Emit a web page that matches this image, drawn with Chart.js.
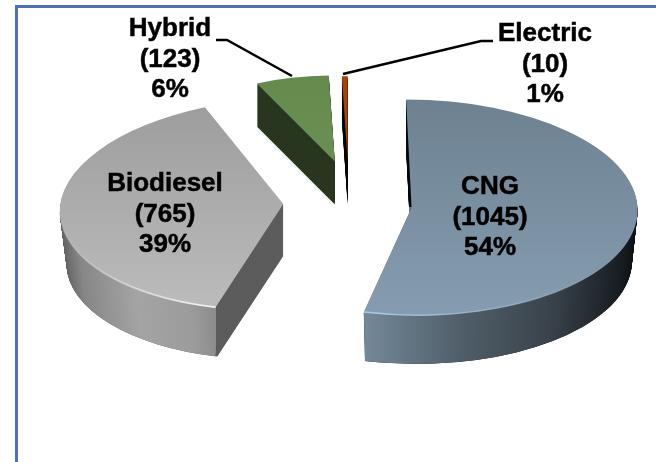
<!DOCTYPE html>
<html>
<head>
<meta charset="utf-8">
<title>Vehicles by fuel type</title>
<script src="https://cdn.jsdelivr.net/npm/chart.js@4"></script>
<style>
  html, body { margin: 0; background: #fff; }
  #wrap { position: relative; width: 656px; height: 462px; overflow: hidden; }
  #frame { position: absolute; left: 15px; top: 5px; right: 0; bottom: 0;
           border-left: 3px solid #5070b5; border-top: 3px solid #5070b5; }
  canvas { position: absolute; left: 0; top: 0; }
</style>
</head>
<body>
<div id="wrap">
  <div id="frame"></div>
  <canvas id="myChart" width="656" height="462"></canvas>
</div>
<script>
const categories = ['CNG', 'Biodiesel', 'Hybrid', 'Electric'];
const counts = [1045, 765, 123, 10];
const percents = [54, 39, 6, 1];

// look of each slice, same order as categories
const sliceColors = ['#7b90a2', '#adadad', '#69904f', '#a8430c'];
const topFaces = [['#6d8190', '#869db1'], ['#9c9c9c', '#bcbcbc'], ['#648a4e', '#6f955a'], ['#a8430c', '#a8430c']];
const edgeColors = ['#080b0e', '#5c5c5c', '#28351f', '#0a0a0a'];
const explode = [62, 67, 88, 84];
const drift = [[0, 3], [0, 0], [5, 0], [-1, 0]];
const radii = [226, 223, 187, 177];
const squashes = [0.478, 0.478, 0.46, 0.478];
const shears = [0.05, -0.15, 0, 0];
const depths = [51, 52, 43, 44];
const tapers = [0.025, 0.03, 0, 0];

// outer wall gradients, stops run from -radius to +radius of the slice
const walls = [
  { side: 'right', bevel: '#a9cbe6', stops: [[0.38, '#74899a'], [0.6, '#505e69'], [0.8, '#3a434b'], [0.95, '#1a2025'], [1, '#0d1114']] },
  { side: 'left', bevel: '#f6f6f6', stops: [[0, '#5e5e5e'], [0.06, '#868686'], [0.2, '#a4a4a4'], [0.33, '#9b9b9b'], [0.38, '#8c8c8c']] },
  null,
  null
];

// text placement: centre x and first baseline
const labelSpots = [[490, 194], [165, 191], [170, 36], [545, 41]];
const lineGap = 30.7;
const leaders = [
  [[216, 40], [227, 40], [292, 76]],
  [[343, 74], [481, 41], [493, 41]]
];

function sliceGeom(arc, i) {
  const half = (arc.startAngle + arc.endAngle) / 2;
  return {
    ax: arc.x + Math.cos(half) * explode[i] + drift[i][0],
    ay: arc.y + Math.sin(half) * explode[i] * squashes[i] + drift[i][1],
    sc: radii[i] / arc.outerRadius,
    R: radii[i]
  };
}

function place(ctx, arc, i, drop) {
  const g = sliceGeom(arc, i);
  const sc = g.sc * (1 - tapers[i] * drop / depths[i]);
  const sq = squashes[i];
  ctx.setTransform(1, 0, 0, 1, 0, 0);
  ctx.translate(g.ax, g.ay + drop);
  ctx.transform(sc, 0, shears[i] * sc * sq, sc * sq, 0, 0);
  ctx.translate(-arc.x, -arc.y);
}

function paint(ctx, arc, fill) {
  const saved = arc.options;
  arc.options = Object.assign({}, saved, { backgroundColor: fill, borderWidth: 0 });
  arc.draw(ctx);
  arc.options = saved;
}

const fakeDepth = {
  id: 'fakeDepth',
  beforeDatasetsDraw(chart) {
    const ctx = chart.ctx;
    const arcs = chart.getDatasetMeta(0).data;
    [2, 3, 1, 0].forEach(i => {
      const arc = arcs[i];
      const g = sliceGeom(arc, i);
      const R = arc.outerRadius;
      ctx.save();

      // cut faces, plain stack of the slice
      for (let d = depths[i]; d > 0; d--) {
        place(ctx, arc, i, d);
        paint(ctx, arc, edgeColors[i]);
      }

      // round outer wall over the stack
      const wall = walls[i];
      if (wall) {
        const a = arcs[0].endAngle;
        const vx = g.ax + g.sc * R * Math.cos(a) + shears[i] * g.sc * squashes[i] * R * Math.sin(a);
        ctx.save();
        ctx.setTransform(1, 0, 0, 1, 0, 0);
        ctx.beginPath();
        if (wall.side === 'left') ctx.rect(0, g.ay, vx, 462);
        else ctx.rect(vx, g.ay, 656, 462);
        ctx.clip();
        const grad = ctx.createLinearGradient(arc.x - R, 0, arc.x + R, 0);
        wall.stops.forEach(s => grad.addColorStop(s[0], s[1]));
        for (let d = depths[i]; d > 0; d--) {
          place(ctx, arc, i, d);
          paint(ctx, arc, grad);
        }
        ctx.restore();
      }

      // top face
      place(ctx, arc, i, 0);
      const face = ctx.createLinearGradient(0, arc.y - R, 0, arc.y + R);
      face.addColorStop(0, topFaces[i][0]);
      face.addColorStop(1, topFaces[i][1]);
      paint(ctx, arc, face);

      // thin light rim on the front edge
      if (wall) {
        const a = arcs[0].endAngle;
        const b = wall.side === 'left' ? a + 1.0 : a - 1.2;
        const rim = ctx.createLinearGradient(arc.x + R * Math.cos(a), 0, arc.x + R * Math.cos(b), 0);
        rim.addColorStop(0, wall.bevel);
        rim.addColorStop(1, wall.bevel + '00');
        ctx.beginPath();
        ctx.arc(arc.x, arc.y, R - 1, a, b, wall.side === 'right');
        ctx.strokeStyle = rim;
        ctx.lineWidth = 3;
        ctx.stroke();
      }
      ctx.restore();
    });
    return false;
  },
  afterDraw(chart) {
    const ctx = chart.ctx;
    ctx.save();
    ctx.setTransform(1, 0, 0, 1, 0, 0);
    ctx.strokeStyle = '#000';
    ctx.lineWidth = 2.5;
    leaders.forEach(pts => {
      ctx.beginPath();
      pts.forEach((p, n) => n ? ctx.lineTo(p[0], p[1]) : ctx.moveTo(p[0], p[1]));
      ctx.stroke();
    });
    ctx.fillStyle = '#000';
    ctx.lineWidth = 0.5;
    ctx.font = 'bold 26px "Liberation Sans", Arial, sans-serif';
    ctx.textAlign = 'center';
    ctx.textBaseline = 'alphabetic';
    categories.forEach((name, i) => {
      const [x, y] = labelSpots[i];
      [name, '(' + counts[i] + ')', percents[i] + '%'].forEach((line, n) => {
        ctx.fillText(line, x, y + lineGap * n);
        ctx.strokeText(line, x, y + lineGap * n);
      });
    });
    ctx.restore();
  }
};

new Chart(document.getElementById('myChart'), {
  type: 'pie',
  data: {
    labels: categories,
    datasets: [{
      data: counts,
      backgroundColor: sliceColors,
      borderWidth: 0
    }]
  },
  options: {
    responsive: false,
    animation: false,
    radius: 226,
    layout: { padding: { left: 44, bottom: 60 } },
    plugins: { legend: { display: false }, tooltip: { enabled: false } }
  },
  plugins: [fakeDepth]
});
</script>
</body>
</html>
